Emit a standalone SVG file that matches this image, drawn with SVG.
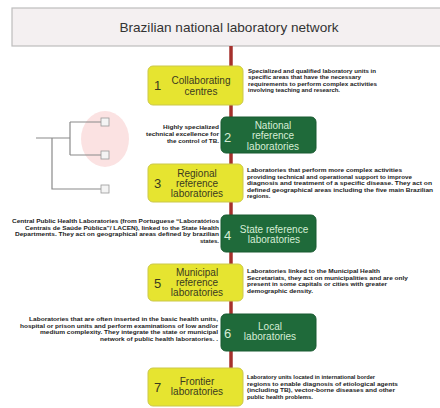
<svg xmlns="http://www.w3.org/2000/svg" width="440" height="408" viewBox="0 0 440 408">
<style>
.y{fill:#e6e430;stroke:#cbc84a;stroke-width:1}
.g{fill:#1f6a3a;stroke:#185a30;stroke-width:1}
.num{font-family:"Liberation Sans",Arial,sans-serif;font-size:13px}
.lbl{font-family:"Liberation Sans",Arial,sans-serif;font-size:10px;text-anchor:middle}
.yt{fill:#3a3a20}
.gt{fill:#d6eed6}
.d{font-family:"Liberation Sans",Arial,sans-serif;font-size:6px;font-weight:bold;fill:#222}
.r{text-anchor:end}
.tree{fill:none;stroke:#8a8a8a;stroke-width:1.2}
.sq{fill:#f4f4f4;stroke:#999;stroke-width:0.8}
</style>
<rect width="440" height="408" fill="#ffffff"/>
<g id="title">
<rect x="12" y="8" width="432" height="38" fill="#f4f0f1" stroke="#bdbdbd" stroke-width="1.2"/>
<text x="229" y="32" font-family="'Liberation Sans',Arial,sans-serif" font-size="13.6px" fill="#333" text-anchor="middle">Brazilian national laboratory network</text>
</g>
<g id="legend-tree">
<ellipse cx="105" cy="139" rx="24" ry="28" fill="#f9d8d8" opacity="0.75"/>
<path class="tree" d="M36 138H70M70 122V155M70 122H101M70 155H101M52 138V189H101"/>
<rect class="sq" x="101" y="118" width="8" height="8"/>
<rect class="sq" x="101" y="151" width="8" height="8"/>
<rect class="sq" x="101" y="185" width="8" height="8"/>
</g>
<g id="connectors">
<line x1="231" y1="46" x2="231" y2="368" stroke="#a5302c" stroke-width="3.5"/>
</g>
<g id="n1">
<rect class="y" x="148" y="66" width="95" height="39" rx="5"/>
<text class="num yt" x="154" y="90">1</text>
<text class="lbl yt" x="201" y="84">Collaborating</text>
<text class="lbl yt" x="201" y="95">centres</text>
<g class="d">
<text x="248" y="73" textLength="128" lengthAdjust="spacingAndGlyphs">Specialized and qualified laboratory units in</text>
<text x="248" y="79.3" textLength="113" lengthAdjust="spacingAndGlyphs">specific areas that have the necessary</text>
<text x="248" y="85.6" textLength="129" lengthAdjust="spacingAndGlyphs">requirements to perform complex activities</text>
<text x="248" y="91.9" textLength="92" lengthAdjust="spacingAndGlyphs">involving teaching and research.</text>
</g>
</g>
<g id="n2">
<rect class="g" x="221" y="117" width="95" height="36" rx="5"/>
<text class="num gt" x="224" y="141.5">2</text>
<text class="lbl gt" x="273" y="128.5">National</text>
<text class="lbl gt" x="273" y="139">reference</text>
<text class="lbl gt" x="273" y="149.5">laboratories</text>
<g class="d r">
<text x="219" y="129" textLength="56" lengthAdjust="spacingAndGlyphs">Highly specialized</text>
<text x="219" y="136" textLength="73" lengthAdjust="spacingAndGlyphs">technical excellence for</text>
<text x="219" y="143" textLength="52" lengthAdjust="spacingAndGlyphs">the control of TB.</text>
</g>
</g>
<g id="n3">
<rect class="y" x="148" y="164" width="95" height="38" rx="5"/>
<text class="num yt" x="154" y="187.5">3</text>
<text class="lbl yt" x="197" y="176.5">Regional</text>
<text class="lbl yt" x="197" y="186.5">reference</text>
<text class="lbl yt" x="197" y="196.5">laboratories</text>
<g class="d">
<text x="247" y="172" textLength="155" lengthAdjust="spacingAndGlyphs">Laboratories that perform more complex activities</text>
<text x="247" y="178.5" textLength="165" lengthAdjust="spacingAndGlyphs">providing technical and operational support to improve</text>
<text x="247" y="185" textLength="185" lengthAdjust="spacingAndGlyphs">diagnosis and treatment of a specific disease.  They act on</text>
<text x="247" y="191.5" textLength="186" lengthAdjust="spacingAndGlyphs">defined geographical areas including the five main Brazilian</text>
<text x="247" y="198">regions.</text>
</g>
</g>
<g id="n4">
<rect class="g" x="221" y="215" width="95" height="37" rx="5"/>
<text class="num gt" x="224" y="239.5">4</text>
<text class="lbl gt" x="274" y="232.5">State reference</text>
<text class="lbl gt" x="274" y="242.5">laboratories</text>
<g class="d r">
<text x="219" y="223" textLength="207" lengthAdjust="spacingAndGlyphs">Central Public Health Laboratories (from Portuguese “Laboratórios</text>
<text x="219" y="229.7" textLength="194" lengthAdjust="spacingAndGlyphs">Centrais de Saúde Pública”/ LACEN), linked to the State Health</text>
<text x="219" y="236.4" textLength="204" lengthAdjust="spacingAndGlyphs">Departments. They act on geographical areas defined by brazilian</text>
<text x="219" y="243.1">states.</text>
</g>
</g>
<g id="n5">
<rect class="y" x="148" y="264" width="95" height="37" rx="5"/>
<text class="num yt" x="154" y="287.5">5</text>
<text class="lbl yt" x="197" y="275.5">Municipal</text>
<text class="lbl yt" x="197" y="285.5">reference</text>
<text class="lbl yt" x="197" y="295.5">laboratories</text>
<g class="d">
<text x="247" y="273" textLength="133" lengthAdjust="spacingAndGlyphs">Laboratories linked to the Municipal Health</text>
<text x="247" y="279.5" textLength="161" lengthAdjust="spacingAndGlyphs">Secretariats, they act on municipalities and are only</text>
<text x="247" y="286" textLength="140" lengthAdjust="spacingAndGlyphs">present in some capitals or cities with greater</text>
<text x="247" y="292.5" textLength="66" lengthAdjust="spacingAndGlyphs">demographic density.</text>
</g>
</g>
<g id="n6">
<rect class="g" x="221" y="314" width="95" height="37" rx="5"/>
<text class="num gt" x="224" y="337.5">6</text>
<text class="lbl gt" x="270" y="329.5">Local</text>
<text class="lbl gt" x="270" y="339.5">laboratories</text>
<g class="d r">
<text x="218" y="321" textLength="189" lengthAdjust="spacingAndGlyphs">Laboratories that are often inserted in the basic health units,</text>
<text x="218" y="327.7" textLength="198" lengthAdjust="spacingAndGlyphs">hospital or prison units and perform examinations of low and/or</text>
<text x="218" y="334.4" textLength="178" lengthAdjust="spacingAndGlyphs">medium complexity. They integrate the state or municipal</text>
<text x="218" y="341.1" textLength="118" lengthAdjust="spacingAndGlyphs">network of public health laboratories. .</text>
</g>
</g>
<g id="n7">
<rect class="y" x="148" y="368" width="95" height="38" rx="5"/>
<text class="num yt" x="154" y="391.5">7</text>
<text class="lbl yt" x="197" y="384.5">Frontier</text>
<text class="lbl yt" x="197" y="394.5">laboratories</text>
<g class="d">
<text x="247" y="379" textLength="128" lengthAdjust="spacingAndGlyphs">Laboratory units located in international border</text>
<text x="247" y="385.5" textLength="151" lengthAdjust="spacingAndGlyphs">regions to enable diagnosis of etiological agents</text>
<text x="247" y="392" textLength="148" lengthAdjust="spacingAndGlyphs">(including TB), vector-borne diseases and other</text>
<text x="247" y="398.5" textLength="66" lengthAdjust="spacingAndGlyphs">public health problems.</text>
</g>
</g>
</svg>
